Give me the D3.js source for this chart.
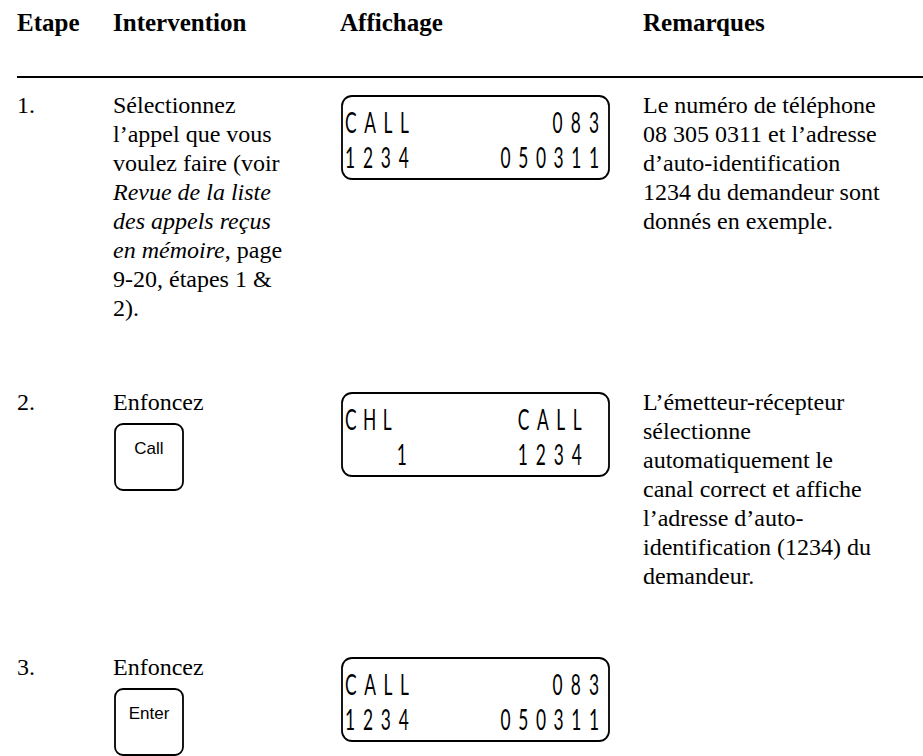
<!DOCTYPE html>
<html><head><meta charset="utf-8">
<script src="https://cdn.jsdelivr.net/npm/d3@7"></script>
<style>html,body{margin:0;padding:0;background:#fff;} svg{display:block;}</style>
</head><body>
<svg id="chart" width="923" height="756"></svg>
<script>
// ---- data ----
const headers = ["Etape", "Intervention", "Affichage", "Remarques"];
const steps = ["1.", "2.", "3."];
const interventionLines = [
  [
    [["Sélectionnez", false]],
    [["l’appel que vous", false]],
    [["voulez faire (voir", false]],
    [["Revue de la liste", true]],
    [["des appels reçus", true]],
    [["en mémoire", true], [", page", false]],
    [["9-20, étapes 1 &", false]],
    [["2).", false]]
  ],
  [[["Enfoncez", false]]],
  [[["Enfoncez", false]]]
];
const buttonLabels = ["", "Call", "Enter"];
// LCD lines: fixed 15-character segment display rows
const displayLine1 = ["CALL        083", "CHL       CALL ", "CALL        083"];
const displayLine2 = ["1234     050311", "   1      1234 ", "1234     050311"];
const remarks = [
  ["Le numéro de téléphone", "08 305 0311 et l’adresse", "d’auto-identification", "1234 du demandeur sont", "donnés en exemple."],
  ["L’émetteur-récepteur", "sélectionne", "automatiquement le", "canal correct et affiche", "l’adresse d’auto-", "identification (1234) du", "demandeur."],
  []
];

// ---- layout ----
const W = 923, H = 756;
const svg = d3.select("#chart");
svg.append("rect").attr("width", W).attr("height", H).attr("fill", "#fff");

const colX = d3.scaleOrdinal().domain(headers).range([17, 113, 340, 643]);
const rowBase = d3.scaleOrdinal().domain(steps).range([113, 410, 675]);
const lead = 29;
const cells = 15;
const lcdX = 342, lcdW = 267, lcdH = 83, lcdTop = -17;
const glyphW = 12;
const cellX = d3.scaleLinear().domain([0, cells - 1]).range([lcdX + 3, lcdX + lcdW - 10 - glyphW]);
const pitch = cellX(1) - cellX(0);
const serif = "'Liberation Serif', 'Times New Roman', Times, 'Nimbus Roman', 'DejaVu Serif', serif";
const bodySize = 24;

// header
svg.selectAll("text.hdr").data(headers).join("text")
  .attr("class", "hdr")
  .attr("x", d => colX(d)).attr("y", 31)
  .attr("font-family", serif).attr("font-weight", "bold").attr("font-size", 25)
  .attr("fill", "#000").text(d => d);

svg.append("line").attr("x1", 17).attr("x2", W).attr("y1", 77).attr("y2", 77)
  .attr("stroke", "#000").attr("stroke-width", 2);

const rows = svg.selectAll("g.row").data(steps).join("g").attr("class", "row")
  .attr("transform", d => `translate(0,${rowBase(d)})`);

// step numbers
rows.append("text").attr("x", colX("Etape")).attr("y", 0)
  .attr("font-family", serif).attr("font-size", bodySize).attr("fill", "#000")
  .text(d => d);

rows.each(function(d, i) {
  const g = d3.select(this);
  // intervention text
  const t = g.selectAll("text.int").data(interventionLines[i]).join("text")
    .attr("class", "int")
    .attr("x", colX("Intervention")).attr("y", (l, k) => k * lead)
    .attr("font-family", serif).attr("font-size", bodySize).attr("fill", "#000");
  t.selectAll("tspan").data(l => l).join("tspan")
    .attr("font-style", s => s[1] ? "italic" : "normal")
    .text(s => s[0]);

  // key button
  if (buttonLabels[i]) {
    const bx = colX("Intervention") + 2, by = 14, bw = 68, bh = 66;
    g.append("rect").attr("x", bx).attr("y", by).attr("width", bw).attr("height", bh)
      .attr("rx", 8).attr("fill", "none").attr("stroke", "#000").attr("stroke-width", 1.8);
    g.append("text").attr("x", bx + bw / 2).attr("y", by + 30)
      .attr("text-anchor", "middle")
      .attr("font-family", "'Liberation Sans', Arial, sans-serif").attr("font-size", 17)
      .attr("fill", "#000").text(buttonLabels[i]);
  }

  // LCD display
  g.append("rect").attr("x", lcdX).attr("y", lcdTop).attr("width", lcdW).attr("height", lcdH)
    .attr("rx", 10).attr("fill", "none").attr("stroke", "#000").attr("stroke-width", 1.8);
  const sx = 0.62;
  [[displayLine1[i], lcdTop + 37], [displayLine2[i], lcdTop + 72]].forEach(([str, base]) => {
    const toks = [];
    str.replace(/\S+/g, (m, off) => { toks.push({ s: m, c: off }); return m; });
    g.selectAll(null).data(toks).join("text")
      .attr("class", "lcd")
      .attr("transform", tk => `translate(${cellX(tk.c)},${base}) scale(${sx},1)`)
      .attr("font-family", "Lato, 'DejaVu Sans', sans-serif").attr("font-weight", 400)
      .attr("font-size", 28)
      .attr("textLength", tk => (tk.s.length * pitch - (pitch - glyphW)) / sx)
      .attr("lengthAdjust", "spacing")
      .attr("fill", "#000").text(tk => tk.s);
  });

  // remarks
  g.selectAll("text.rem").data(remarks[i]).join("text")
    .attr("class", "rem")
    .attr("x", colX("Remarques")).attr("y", (l, k) => k * lead)
    .attr("font-family", serif).attr("font-size", bodySize).attr("fill", "#000")
    .text(l => l);
});
</script>
</body></html>
